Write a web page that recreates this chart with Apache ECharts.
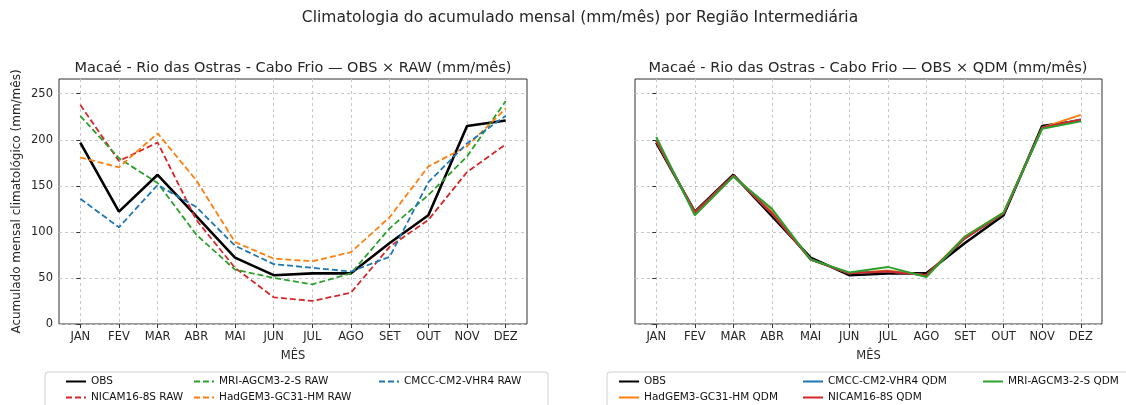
<!DOCTYPE html>
<html>
<head>
<meta charset="utf-8">
<script src="https://cdn.jsdelivr.net/npm/echarts@6/dist/echarts.min.js"></script>
<style>
  html, body { margin: 0; padding: 0; background: #fff; }
  #chart { width: 1126px; height: 405px; }
</style>
</head>
<body>
<div id="chart"></div>
<script>
// Monthly climatology (mm/mês) — observed vs raw and bias-corrected (QDM) models
const months = ['JAN', 'FEV', 'MAR', 'ABR', 'MAI', 'JUN', 'JUL', 'AGO', 'SET', 'OUT', 'NOV', 'DEZ'];
const yTicks = [0, 50, 100, 150, 200, 250];

const obs = [197, 122, 162, 117, 72, 53, 55, 55, 88, 118, 215, 221];

// Raw model output
const nicamRaw  = [238, 177, 197, 113, 61, 29, 25, 34, 84, 113, 165, 195];
const mriRaw    = [226, 180, 153, 97, 59, 50, 43, 55, 104, 140, 182, 242];
const hadgemRaw = [181, 170, 207, 156, 89, 71, 68, 78, 116, 171, 193, 234];
const cmccRaw   = [136, 105, 151, 127, 85, 65, 61, 57, 73, 154, 196, 226];

// Quantile delta mapping corrected output
const hadgemQdm = [199, 121, 161, 122, 70, 55, 58, 53, 95, 121, 213, 227];
const cmccQdm   = [199, 121, 161, 120, 70, 55, 57, 53, 93, 120, 213, 222];
const nicamQdm  = [199, 121, 161, 120, 70, 55, 57, 53, 93, 120, 213, 222];
const mriQdm    = [203, 118, 160, 125, 70, 56, 62, 51, 95, 121, 212, 220];

const C = { blue: '#1f77b4', orange: '#ff7f0e', green: '#2ca02c', red: '#d62728', black: '#000000' };
const TXT = '#262626';
const FONT = 'DejaVu Sans';
const monthIdx = months.map((_, i) => i);
const pairs = arr => arr.map((v, i) => [i, v]);

function xAxisFor(gridIndex) {
  return {
    gridIndex, type: 'value', min: -0.55, max: 11.55,
    name: 'MÊS', nameLocation: 'middle', nameGap: 26,
    nameTextStyle: { color: TXT, fontSize: 11.5, fontFamily: FONT },
    axisLine: { show: false },
    axisTick: { show: true, customValues: monthIdx, length: 4, lineStyle: { color: '#333' } },
    axisLabel: { customValues: monthIdx, formatter: v => months[Math.round(v)], color: TXT, fontSize: 11.5, fontFamily: FONT, margin: 7 },
    splitLine: { show: true, customValues: monthIdx, lineStyle: { color: '#c8c8c8', type: [3, 3], width: 1 } }
  };
}
function yAxisFor(gridIndex, withLabels) {
  return {
    gridIndex, type: 'value', min: 0, max: 266,
    name: withLabels ? 'Acumulado mensal climatológico (mm/mês)' : '',
    nameLocation: 'middle', nameRotate: 90, nameGap: 36,
    nameTextStyle: { color: TXT, fontSize: 12, fontFamily: FONT },
    axisLine: { show: false },
    axisTick: { show: true, customValues: yTicks, length: 4, lineStyle: { color: '#333' } },
    axisLabel: { show: withLabels, customValues: yTicks, color: TXT, fontSize: 11.5, fontFamily: FONT, margin: 6 },
    splitLine: { show: true, customValues: yTicks, lineStyle: { color: '#c8c8c8', type: [3, 3], width: 1 } }
  };
}
function line(name, data, color, idx, dashed, width) {
  return {
    name, type: 'line', xAxisIndex: idx, yAxisIndex: idx, data: pairs(data),
    symbol: 'none', showSymbol: false, animation: false,
    lineStyle: { color, width, type: dashed ? [6, 3] : 'solid' },
    itemStyle: { color }
  };
}
// one legend column; the marker is hidden so each handle is just the line
function legendCol(left, data) {
  return {
    orient: 'vertical', left, top: 375, padding: 0, data,
    itemWidth: 20, itemHeight: 10, itemGap: 3,
    selectedMode: false,
    itemStyle: { opacity: 0 },
    textStyle: { color: '#111', fontSize: 10.5, lineHeight: 13, fontFamily: FONT }
  };
}

const chart = echarts.init(document.getElementById('chart'), null, { renderer: 'canvas' });
chart.setOption({
  backgroundColor: '#fff',
  animation: false,
  grid: [
    { left: 59, right: 599, top: 79, bottom: 81, show: true, borderColor: '#333', borderWidth: 1, backgroundColor: 'transparent' },
    { left: 635, right: 24, top: 79, bottom: 81, show: true, borderColor: '#333', borderWidth: 1, backgroundColor: 'transparent' }
  ],
  xAxis: [xAxisFor(0), xAxisFor(1)],
  yAxis: [yAxisFor(0, true), yAxisFor(1, false)],
  legend: [
    legendCol(65, ['OBS', 'NICAM16-8S RAW']),
    legendCol(193, ['MRI-AGCM3-2-S RAW', 'HadGEM3-GC31-HM RAW']),
    legendCol(378, ['CMCC-CM2-VHR4 RAW']),
    legendCol(618, ['OBS', 'HadGEM3-GC31-HM QDM']),
    legendCol(802, ['CMCC-CM2-VHR4 QDM', 'NICAM16-8S QDM']),
    legendCol(982, ['MRI-AGCM3-2-S QDM'])
  ],
  graphic: [
    { type: 'text', x: 580, y: 18, style: { text: 'Climatologia do acumulado mensal (mm/mês) por Região Intermediária', fill: TXT, font: '15.5px "DejaVu Sans"', align: 'center', verticalAlign: 'middle' } },
    { type: 'text', x: 293, y: 68, style: { text: 'Macaé - Rio das Ostras - Cabo Frio — OBS × RAW (mm/mês)', fill: TXT, font: '14.5px "DejaVu Sans"', align: 'center', verticalAlign: 'middle' } },
    { type: 'text', x: 868, y: 68, style: { text: 'Macaé - Rio das Ostras - Cabo Frio — OBS × QDM (mm/mês)', fill: TXT, font: '14.5px "DejaVu Sans"', align: 'center', verticalAlign: 'middle' } },
    { type: 'rect', shape: { x: 45, y: 372, width: 503, height: 40, r: 3 }, style: { fill: '#fff', stroke: '#d0d0d0', lineWidth: 1 }, z: -1 },
    { type: 'rect', shape: { x: 607, y: 372, width: 530, height: 40, r: 3 }, style: { fill: '#fff', stroke: '#d0d0d0', lineWidth: 1 }, z: -1 }
  ],
  series: [
    line('OBS', obs, C.black, 0, false, 2.6),
    line('NICAM16-8S RAW', nicamRaw, C.red, 0, true, 1.8),
    line('MRI-AGCM3-2-S RAW', mriRaw, C.green, 0, true, 1.8),
    line('HadGEM3-GC31-HM RAW', hadgemRaw, C.orange, 0, true, 1.8),
    line('CMCC-CM2-VHR4 RAW', cmccRaw, C.blue, 0, true, 1.8),
    line('OBS', obs, C.black, 1, false, 2.6),
    line('HadGEM3-GC31-HM QDM', hadgemQdm, C.orange, 1, false, 2),
    line('CMCC-CM2-VHR4 QDM', cmccQdm, C.blue, 1, false, 2),
    line('NICAM16-8S QDM', nicamQdm, C.red, 1, false, 2),
    line('MRI-AGCM3-2-S QDM', mriQdm, C.green, 1, false, 2)
  ]
});
</script>
</body>
</html>
